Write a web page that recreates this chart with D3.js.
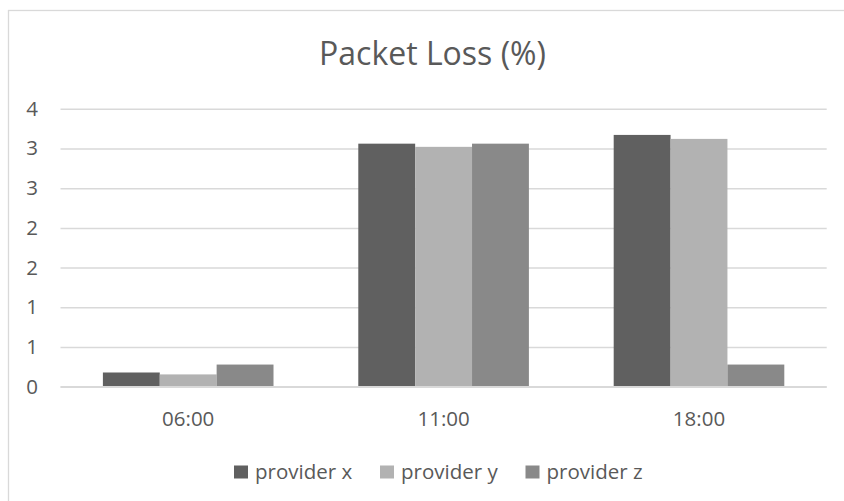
<!DOCTYPE html>
<html>
<head>
<meta charset="utf-8">
<script src="https://cdn.jsdelivr.net/npm/d3@7"></script>
<style>
  html, body { margin: 0; padding: 0; background: #fff; }
  svg { display: block; }
  text { font-family: "Open Sans", "Liberation Sans", sans-serif; fill: #595959; }
</style>
</head>
<body>
<svg id="chart" width="844" height="501"></svg>
<script>
const categories = ["06:00", "11:00", "18:00"];
const seriesNames = ["provider x", "provider y", "provider z"];
const providerX = [0.18, 3.06, 3.17];
const providerY = [0.156, 3.02, 3.12];
const providerZ = [0.28, 3.06, 0.28];
const yTicks = [0, 0.5, 1, 1.5, 2, 2.5, 3, 3.5];
const yTickLabels = ["0", "1", "1", "2", "2", "3", "3", "4"];
const colors = ["#606060", "#b2b2b2", "#898989"];
const titleText = "Packet Loss (%)";

const seriesValues = [providerX, providerY, providerZ];
const data = categories.map((c, i) => ({
  cat: c,
  vals: seriesNames.map((s, j) => ({ series: s, value: seriesValues[j][i] }))
}));

const svg = d3.select("#chart");

// chart border (only top/left visible in the frame)
svg.append("rect")
  .attr("x", 8.5).attr("y", 10.5)
  .attr("width", 900).attr("height", 600)
  .attr("fill", "none").attr("stroke", "#d9d9d9").attr("stroke-width", 1.3);

const plotLeft = 60.5, plotRight = 826.7, plotTop = 108.7, plotBottom = 386.8;

const x = d3.scaleBand().domain(categories).range([plotLeft, plotRight])
  .paddingInner(0.332).paddingOuter(0.166);
const xs = d3.scaleBand().domain(seriesNames).range([0, x.bandwidth()]).padding(0);
const y = d3.scaleLinear().domain([0, 3.5]).range([plotBottom, plotTop]);

// y axis with gridlines
const yAxis = d3.axisLeft(y).tickValues(yTicks)
  .tickSize(-(plotRight - plotLeft))
  .tickPadding(22.5)
  .tickFormat((d, i) => yTickLabels[i]);
const gy = svg.append("g").attr("transform", `translate(${plotLeft},0)`).call(yAxis);
gy.select(".domain").remove();
gy.selectAll(".tick line").attr("stroke", "#d9d9d9").attr("stroke-width", 1.5);
gy.selectAll(".tick text").attr("font-size", "20.5px").attr("fill", "#595959")
  .style("font-family", "'Open Sans', sans-serif");

// bars
const groups = svg.append("g").selectAll("g").data(data).join("g")
  .attr("transform", d => `translate(${x(d.cat)},0)`);
groups.selectAll("rect").data(d => d.vals).join("rect")
  .attr("x", d => xs(d.series))
  .attr("y", d => y(d.value))
  .attr("width", xs.bandwidth())
  .attr("height", d => y(0) - y(d.value))
  .attr("fill", (d, i) => colors[i]);

// x axis labels
const xAxis = d3.axisBottom(x).tickSize(0).tickPadding(25);
const gx = svg.append("g").attr("transform", `translate(0,${plotBottom})`).call(xAxis);
gx.select(".domain").remove();
gx.selectAll(".tick text").attr("font-size", "20.5px").attr("fill", "#595959")
  .style("font-family", "'Open Sans', sans-serif");

// baseline gridline
svg.append("line")
  .attr("x1", plotLeft).attr("x2", plotRight)
  .attr("y1", y(0)).attr("y2", y(0))
  .attr("stroke", "#d9d9d9").attr("stroke-width", 1.5);

// title
svg.append("text")
  .attr("x", 432.5).attr("y", 65)
  .attr("text-anchor", "middle")
  .attr("font-size", "32px")
  .text(titleText);

// legend
const legendX = [234, 380, 525.5];
const legend = svg.append("g").selectAll("g").data(seriesNames).join("g")
  .attr("transform", (d, i) => `translate(${legendX[i]},465.5)`);
legend.append("rect").attr("width", 14).attr("height", 13).attr("fill", (d, i) => colors[i]);
legend.append("text").attr("x", 21).attr("y", 13.5).attr("font-size", "20.5px").text(d => d);
</script>
</body>
</html>
